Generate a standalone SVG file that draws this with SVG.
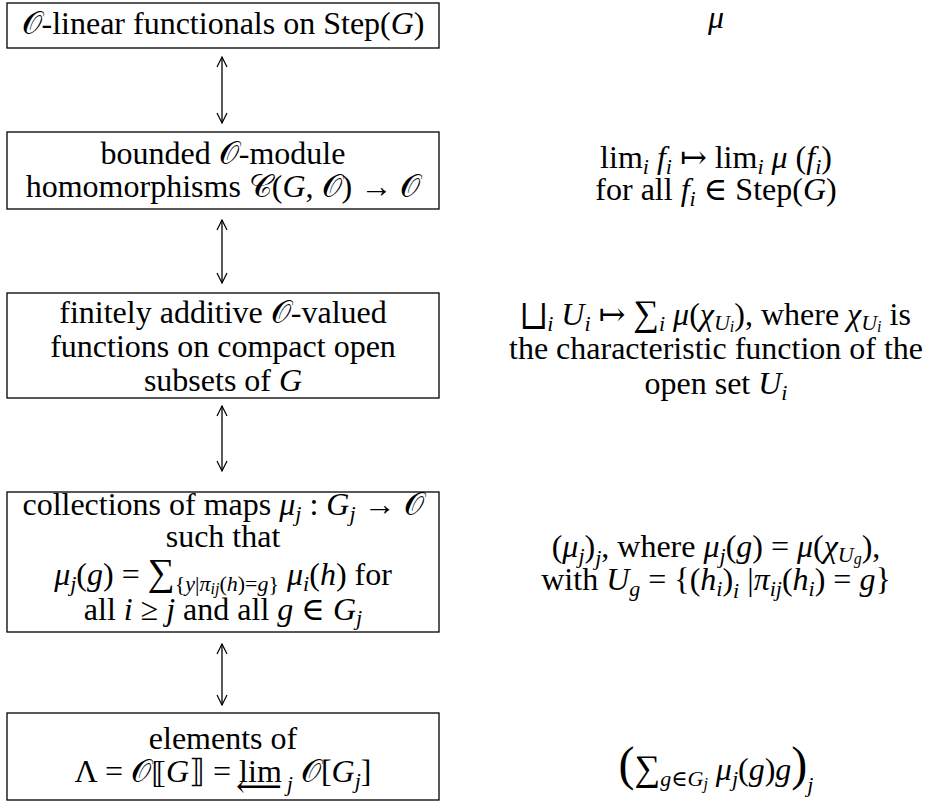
<svg xmlns="http://www.w3.org/2000/svg" width="928" height="803" viewBox="0 0 928 803" font-family="'Liberation Serif', 'Times New Roman', Times, 'DejaVu Serif', serif">
<style>
text{font-family:"Liberation Serif","Times New Roman",Times,"DejaVu Serif",serif;font-size:32px;fill:#000}
.c{text-anchor:middle}
.i{font-style:italic}
.s{font-size:22px}
.ss{font-size:16px}
.box{fill:#fff;stroke:#000;stroke-width:1.3}
.ar{stroke:#000;stroke-width:1.3;fill:none}
</style>
<defs>
<marker id="h" viewBox="-12 -7 13 14" markerWidth="13" markerHeight="14" refX="0" refY="0" orient="auto-start-reverse" markerUnits="userSpaceOnUse">
<path d="M-10,-5 Q-3,-1.5 0,0 Q-3,1.5 -10,5" fill="none" stroke="#000" stroke-width="1.2"/>
</marker>
</defs>
<g id="connectors">
<line class="ar" x1="222" y1="57" x2="222" y2="123" marker-start="url(#h)" marker-end="url(#h)"/>
<line class="ar" x1="222" y1="220" x2="222" y2="283" marker-start="url(#h)" marker-end="url(#h)"/>
<line class="ar" x1="222" y1="406" x2="222" y2="471" marker-start="url(#h)" marker-end="url(#h)"/>
<line class="ar" x1="222" y1="644" x2="222" y2="705" marker-start="url(#h)" marker-end="url(#h)"/>
</g>
<g id="n1">
<rect class="box" x="7" y="3" width="432" height="45"/>
<text class="c" x="223" y="34">𝒪-linear functionals on Step(<tspan class="i">G</tspan>)</text>
</g>
<g id="n2">
<rect class="box" x="7" y="132" width="432" height="77"/>
<text class="c" x="223" y="164">bounded 𝒪-module</text>
<text class="c" x="223" y="197">homomorphisms 𝒞(<tspan class="i">G</tspan>, 𝒪) → 𝒪</text>
</g>
<g id="n3">
<rect class="box" x="7" y="293" width="432" height="105"/>
<text class="c" x="223" y="323">finitely additive 𝒪-valued</text>
<text class="c" x="223" y="357">functions on compact open</text>
<text class="c" x="223" y="391">subsets of <tspan class="i">G</tspan></text>
</g>
<g id="n4">
<rect class="box" x="7" y="492" width="432" height="140"/>
<text class="c" x="223" y="515">collections of maps <tspan class="i">μ</tspan><tspan class="i s" dy="6">j</tspan><tspan dy="-6"> : </tspan><tspan class="i">G</tspan><tspan class="i s" dy="6">j</tspan><tspan dy="-6"> → 𝒪</tspan></text>
<text class="c" x="223" y="547">such that</text>
<text class="c" x="223" y="585"><tspan class="i">μ</tspan><tspan class="i s" dy="6">j</tspan><tspan dy="-6">(</tspan><tspan class="i">g</tspan>) = <tspan font-size="38">∑</tspan><tspan class="s" dy="6">{</tspan><tspan class="s i">y</tspan><tspan class="s">|</tspan><tspan class="s i">π</tspan><tspan class="ss i" dy="3">ij</tspan><tspan class="s" dy="-3">(</tspan><tspan class="s i">h</tspan><tspan class="s">)=</tspan><tspan class="s i">g</tspan><tspan class="s">}</tspan><tspan dy="-6"> </tspan><tspan class="i">μ</tspan><tspan class="i s" dy="6">i</tspan><tspan dy="-6">(</tspan><tspan class="i">h</tspan>) for</text>
<text class="c" x="223" y="620">all <tspan class="i">i</tspan> ≥ <tspan class="i">j</tspan> and all <tspan class="i">g</tspan> ∈ <tspan class="i">G</tspan><tspan class="i s" dy="5">j</tspan></text>
</g>
<g id="n5">
<rect class="box" x="7" y="713" width="432" height="87"/>
<text class="c" x="223" y="749">elements of</text>
<text class="c" x="223" y="782">Λ = 𝒪⟦<tspan class="i">G</tspan>⟧ = lim<tspan class="i s" dx="5" dy="9">j</tspan><tspan dy="-9"> 𝒪[</tspan><tspan class="i">G</tspan><tspan class="i s" dy="6">j</tspan><tspan dy="-6">]</tspan></text>
<text x="236" y="797" font-size="18">⟵</text>
</g>
<g id="r1">
<text class="c i" x="716" y="28">μ</text>
</g>
<g id="r2">
<text class="c" x="716" y="168">lim<tspan class="i s" dy="6">i</tspan><tspan dy="-6"> </tspan><tspan class="i">f</tspan><tspan class="i s" dy="6">i</tspan><tspan dy="-6"> ↦ lim</tspan><tspan class="i s" dy="6">i</tspan><tspan dy="-6"> </tspan><tspan class="i">μ</tspan> (<tspan class="i">f</tspan><tspan class="i s" dy="6">i</tspan><tspan dy="-6">)</tspan></text>
<text class="c" x="716" y="200">for all <tspan class="i">f</tspan><tspan class="i s" dy="6">i</tspan><tspan dy="-6"> ∈ Step(</tspan><tspan class="i">G</tspan>)</text>
</g>
<g id="r3">
<text class="c" x="716" y="325">⨆<tspan class="i s" dy="6">i</tspan><tspan dy="-6"> </tspan><tspan class="i">U</tspan><tspan class="i s" dy="6">i</tspan><tspan dy="-6"> ↦ </tspan><tspan font-size="36">∑</tspan><tspan class="i s" dy="6">i</tspan><tspan dy="-6"> </tspan><tspan class="i">μ</tspan>(<tspan class="i">χ</tspan><tspan class="i s" dy="5">U</tspan><tspan class="i ss" dy="2">i</tspan><tspan dy="-7">), where </tspan><tspan class="i">χ</tspan><tspan class="i s" dy="5">U</tspan><tspan class="i ss" dy="2">i</tspan><tspan dy="-7"> is</tspan></text>
<text class="c" x="716" y="359">the characteristic function of the</text>
<text class="c" x="716" y="394">open set <tspan class="i">U</tspan><tspan class="i s" dy="6">i</tspan></text>
</g>
<g id="r4">
<text class="c" x="716" y="557">(<tspan class="i">μ</tspan><tspan class="i s" dy="6">j</tspan><tspan dy="-6">)</tspan><tspan class="i s" dy="8">j</tspan><tspan dy="-8">, where </tspan><tspan class="i">μ</tspan><tspan class="i s" dy="6">j</tspan><tspan dy="-6">(</tspan><tspan class="i">g</tspan>) = <tspan class="i">μ</tspan>(<tspan class="i">χ</tspan><tspan class="i s" dy="5">U</tspan><tspan class="i ss" dy="2">g</tspan><tspan dy="-7">),</tspan></text>
<text class="c" x="716" y="590">with <tspan class="i">U</tspan><tspan class="i s" dy="6">g</tspan><tspan dy="-6"> = {(</tspan><tspan class="i">h</tspan><tspan class="i s" dy="6">i</tspan><tspan dy="-6">)</tspan><tspan class="i s" dy="8">i</tspan><tspan dy="-8"> |</tspan><tspan class="i">π</tspan><tspan class="i s" dy="6">ij</tspan><tspan dy="-6">(</tspan><tspan class="i">h</tspan><tspan class="i s" dy="6">i</tspan><tspan dy="-6">) = </tspan><tspan class="i">g</tspan>}</text>
</g>
<g id="r5">
<text class="c" x="716" y="780"><tspan font-size="48">(</tspan><tspan font-size="36">∑</tspan><tspan class="i s" dy="6">g</tspan><tspan class="s">∈</tspan><tspan class="i s">G</tspan><tspan class="i ss" dy="3">j</tspan><tspan dy="-9"> </tspan><tspan class="i">μ</tspan><tspan class="i s" dy="6">j</tspan><tspan dy="-6">(</tspan><tspan class="i">g</tspan>)<tspan class="i">g</tspan><tspan font-size="48">)</tspan><tspan class="i s" dy="12">j</tspan></text>
</g>
</svg>
